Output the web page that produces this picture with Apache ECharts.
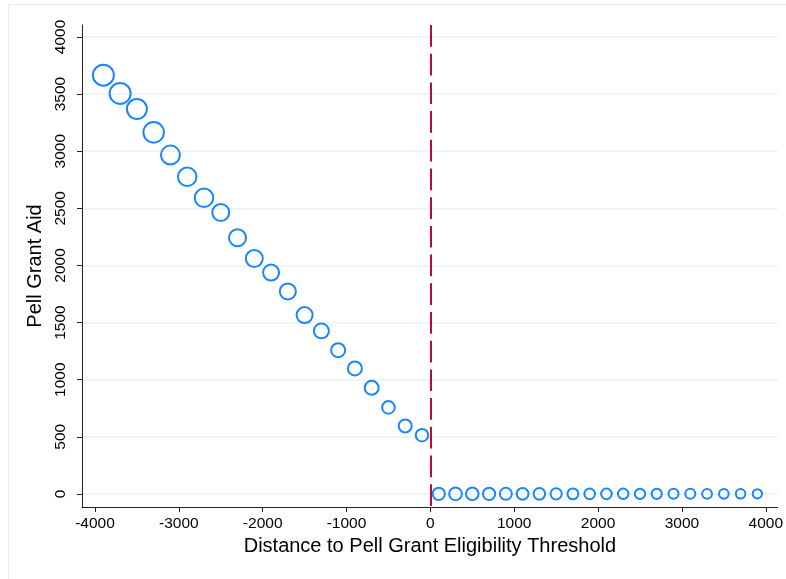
<!DOCTYPE html>
<html>
<head>
<meta charset="utf-8">
<script src="https://cdn.jsdelivr.net/npm/echarts@6/dist/echarts.min.js"></script>
<style>
html,body{margin:0;padding:0;background:#fff;}
#chart{width:786px;height:579px;}
</style>
</head>
<body>
<div id="chart"></div>
<script>
// Bin midpoints: distance to Pell Grant eligibility threshold
const distance = [-3900,-3700,-3500,-3300,-3100,-2900,-2700,-2500,-2300,-2100,
                  -1900,-1700,-1500,-1300,-1100,-900,-700,-500,-300,-100,
                  100,300,500,700,900,1100,1300,1500,1700,1900,
                  2100,2300,2500,2700,2900,3100,3300,3500,3700,3900];
// Mean Pell Grant aid in each bin
const pellAid = [3666,3506,3369,3165,2966,2776,2592,2464,2242,2061,
                 1937,1772,1565,1427,1258,1098,928,757,595,514,
                 0,0,0,0,0,0,0,0,0,0,
                 0,0,0,0,0,0,0,0,0,0];
// Relative bin weights (marker area)
const binWeight = [132,132,121,127,110,105,105,90,90,90,
                   81,81,81,72,64,64,64,53,56,53,
                   51,54,53,51,49,48,46,44,42,40,
                   40,39,38,37,36,36,35,34,33,32];
const threshold = 0;
const xTicks = [-4000,-3000,-2000,-1000,0,1000,2000,3000,4000];
const yTicks = [0,500,1000,1500,2000,2500,3000,3500,4000];
const xRange = [-4155, 4143];
const yRange = [-115, 4105];

const points = distance.map((d, i) => [d, pellAid[i], binWeight[i]]);

const chart = echarts.init(document.getElementById('chart'), null, {renderer: 'canvas'});
const font = 'Liberation Sans, Arial, Helvetica, sans-serif';
const plain = v => String(v);
chart.setOption({
  animation: false,
  backgroundColor: '#ffffff',
  graphic: [{
    type: 'polyline', silent: true,
    shape: {points: [[8.5, 600], [8.5, 4.5], [800, 4.5]]},
    style: {fill: 'none', stroke: '#e4edf1', lineWidth: 1}
  }],
  grid: {left: 82, right: 7, top: 25, bottom: 72, containLabel: false},
  xAxis: {
    type: 'value', min: xRange[0], max: xRange[1],
    name: 'Distance to Pell Grant Eligibility Threshold',
    nameLocation: 'middle', nameGap: 26,
    nameTextStyle: {fontFamily: font, fontSize: 20, color: '#000'},
    axisLine: {show: true, onZero: false, lineStyle: {color: '#222', width: 1}},
    axisTick: {show: true, length: 5, customValues: xTicks, lineStyle: {color: '#222'}},
    axisLabel: {customValues: xTicks, formatter: plain, margin: 9, fontFamily: font, fontSize: 15.5, color: '#000'},
    splitLine: {show: false}
  },
  yAxis: {
    type: 'value', min: yRange[0], max: yRange[1],
    name: 'Pell Grant Aid',
    nameLocation: 'middle', nameGap: 27,
    nameTextStyle: {fontFamily: font, fontSize: 20, color: '#000'},
    axisLine: {show: true, onZero: false, lineStyle: {color: '#222', width: 1}},
    axisTick: {show: true, length: 5, customValues: yTicks, lineStyle: {color: '#222'}},
    axisLabel: {customValues: yTicks, formatter: plain, rotate: 90, margin: 13, fontFamily: font, fontSize: 15.5, color: '#000'},
    splitLine: {show: true, lineStyle: {color: '#eaf1f4', width: 1.5}}
  },
  series: [{
    type: 'scatter',
    data: points,
    symbol: 'circle',
    symbolSize: v => 2 * Math.sqrt(v[2]) - 2,
    itemStyle: {color: 'rgba(0,0,0,0)', borderColor: '#1a86fb', borderWidth: 2, opacity: 1},
    emphasis: {disabled: true},
    z: 3,
    markLine: {
      silent: true, symbol: 'none', animation: false,
      label: {show: false},
      lineStyle: {color: '#c1083a', width: 2, type: [21.7, 7]},
      data: [[{coord: [threshold, yRange[1]]}, {coord: [threshold, yRange[0]]}]]
    }
  }]
});
</script>
</body>
</html>
